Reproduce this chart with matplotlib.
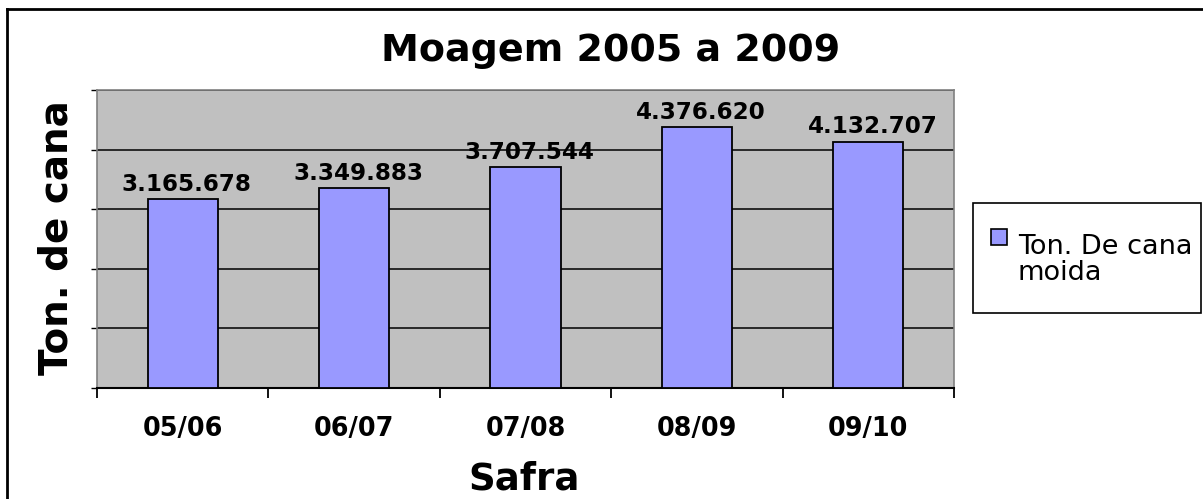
import numpy as np
import matplotlib.pyplot as plt
from matplotlib.lines import Line2D
from matplotlib.patches import Rectangle

safras = ["05/06", "06/07", "07/08", "08/09", "09/10"]
moagem = [3165678, 3349883, 3707544, 4376620, 4132707]
labels = ["3.165.678", "3.349.883", "3.707.544", "4.376.620", "4.132.707"]
legenda = ["Ton. De cana", "moida"]

W, H = 1203, 499
fig = plt.figure(figsize=(W / 100, H / 100), dpi=100)
fig.patch.set_facecolor("white")

ax = fig.add_axes([97 / W, 1 - 388 / H, (954 - 97) / W, (388 - 90) / H])
ax.set_facecolor("#C0C0C0")

x = np.arange(len(safras))
ax.bar(x, moagem, width=0.41, color="#9999FF", edgecolor="black",
       linewidth=1.3, zorder=3)

ax.set_xlim(-0.5, len(safras) - 0.5)
ax.set_ylim(0, 5000000)
ax.set_yticks(np.arange(0, 5000001, 1000000))
ax.set_yticklabels([])
ax.yaxis.grid(True, color="black", linewidth=1.1, zorder=1)
ax.set_axisbelow(True)
ax.tick_params(axis="y", direction="out", length=4, width=1, color="black")

# ticks at category boundaries, labels at centers
ax.set_xticks(np.arange(-0.5, len(safras), 1.0))
ax.set_xticklabels([])
ax.tick_params(axis="x", which="major", direction="out", length=7, width=1.3)
ax.set_xticks(x, minor=True)
ax.set_xticklabels(safras, minor=True, fontsize=18.4, fontweight="bold")
ax.tick_params(axis="x", which="minor", length=0, pad=20)

for s in ["top", "right", "left"]:
    ax.spines[s].set_color("#808080")
    ax.spines[s].set_linewidth(1.2)
ax.spines["bottom"].set_color("black")
ax.spines["bottom"].set_linewidth(1.5)

for xi, v, t in zip(x, moagem, labels):
    ax.annotate(t, (xi, v), xytext=(3, 6), textcoords="offset points",
                ha="center", va="baseline", fontsize=16.6, fontweight="bold",
                zorder=4)

fig.text(611 / W, 1 - 61 / H, "Moagem 2005 a 2009", ha="center",
         va="baseline", fontsize=27.4, fontweight="bold")
fig.text(524 / W, 1 - 490 / H, "Safra", ha="center", va="baseline",
         fontsize=26.7, fontweight="bold")
fig.text(57 / W, 1 - 238 / H, "Ton. de cana", ha="center", va="center",
         rotation=90, fontsize=28, fontweight="bold")

# legend box
fig.patches.append(Rectangle((973 / W, 1 - 313 / H), (1201 - 973) / W,
                             110 / H, transform=fig.transFigure,
                             facecolor="white", edgecolor="black",
                             linewidth=1.2))
fig.patches.append(Rectangle((991 / W, 1 - 245 / H), 16 / W, 16 / H,
                             transform=fig.transFigure, facecolor="#9999FF",
                             edgecolor="black", linewidth=1.2))
fig.text(1018 / W, 1 - 254 / H, legenda[0], ha="left", va="baseline",
         fontsize=19.5)
fig.text(1018 / W, 1 - 280 / H, legenda[1], ha="left", va="baseline",
         fontsize=19.5)

# outer chart frame
fig.add_artist(Line2D([7 / W, 1.0], [1 - 9 / H, 1 - 9 / H],
                      transform=fig.transFigure, color="black", linewidth=2))
fig.add_artist(Line2D([7 / W, 7 / W], [0, 1 - 9 / H],
                      transform=fig.transFigure, color="black", linewidth=2))

fig.savefig("out.png", dpi=100, facecolor="white")
